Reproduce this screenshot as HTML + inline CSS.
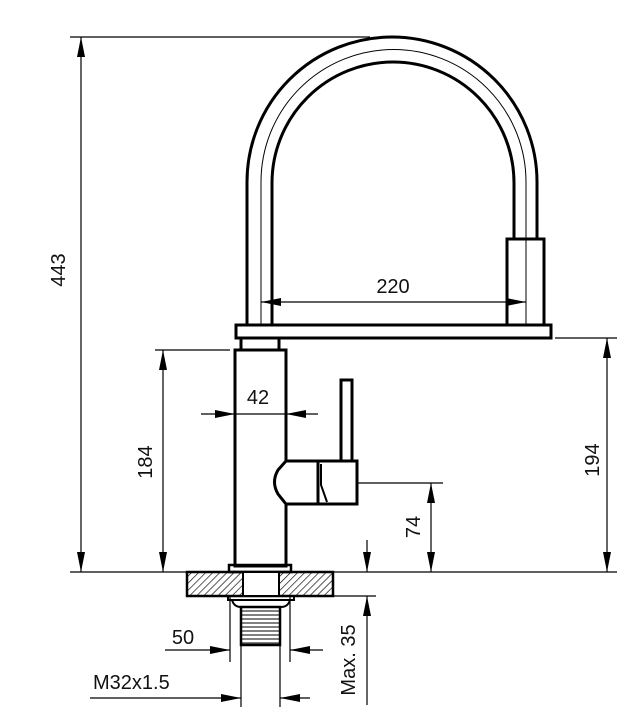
<!DOCTYPE html>
<html><head><meta charset="utf-8"><style>
html,body{margin:0;padding:0;background:#fff;}
svg{display:block}
text{font-family:"Liberation Sans",Arial,sans-serif;fill:#111;font-size:20px}
</style></head><body>
<svg width="633" height="728" viewBox="0 0 633 728" xmlns="http://www.w3.org/2000/svg">
<defs>
<marker id="a" viewBox="0 0 20 8" refX="20" refY="4" markerWidth="20" markerHeight="8" markerUnits="userSpaceOnUse" orient="auto-start-reverse">
<path d="M0,0 L20,4 L0,8 z" fill="#000"/></marker>
<pattern id="h" width="5" height="5" patternUnits="userSpaceOnUse" patternTransform="rotate(45)">
<line x1="0" y1="0" x2="0" y2="5" stroke="#000" stroke-width="1.3"/></pattern>
</defs>
<g fill="none" stroke="#000">
<!-- spout arches -->
<path d="M247,325 V182 A145,145 0 0 1 537,182 V239" stroke-width="3"/>
<path d="M261,325 V182 A132.5,132.5 0 0 1 526,182 V325" stroke-width="1"/>
<path d="M272,325 V183 A121,121 0 0 1 514,183 V239" stroke-width="3"/>
<rect x="507" y="239" width="37" height="86" stroke-width="3" fill="#fff"/>
<line x1="526" y1="239" x2="526" y2="325" stroke-width="1"/>
<rect x="236" y="325" width="315" height="13" stroke-width="3" fill="#fff"/>
<!-- neck and body -->
<rect x="241" y="338" width="38" height="12" stroke-width="3"/>
<rect x="235" y="350" width="51" height="216" stroke-width="3"/>
<!-- handle -->
<path d="M286,461 H318 V504 H286 L278,494 Q271,482 278,470 Z" stroke-width="3" fill="#fff"/>
<rect x="318" y="461" width="39" height="43" stroke-width="3" fill="#fff"/>
<path d="M321,464 V485 L327,502" stroke-width="2"/>
<rect x="341" y="380" width="11" height="81" stroke-width="3" fill="#fff"/>
<!-- base -->
<rect x="229" y="565" width="62" height="7" stroke-width="2.5"/>
<rect x="187" y="572" width="146" height="24" stroke-width="2.5" fill="url(#h)"/>
<rect x="243" y="573" width="36" height="22" stroke="none" fill="#fff"/>
<line x1="243" y1="572" x2="243" y2="596" stroke-width="2"/>
<line x1="279" y1="572" x2="279" y2="596" stroke-width="2"/>
<rect x="228" y="596" width="66" height="4" stroke-width="2"/>
<path d="M232,600 Q234,607 241,607 H281 Q288,607 290,600" stroke-width="2"/>
<rect x="241" y="607" width="39" height="38" stroke-width="2.5" fill="url(#thr)"/>
<g stroke-width="1">
<line x1="242" y1="611" x2="279" y2="611"/><line x1="242" y1="615" x2="279" y2="615"/><line x1="242" y1="619" x2="279" y2="619"/><line x1="242" y1="623" x2="279" y2="623"/><line x1="242" y1="627" x2="279" y2="627"/><line x1="242" y1="631" x2="279" y2="631"/><line x1="242" y1="635" x2="279" y2="635"/><line x1="242" y1="639" x2="279" y2="639"/><line x1="242" y1="643" x2="279" y2="643"/>
</g>
<!-- dimension & extension lines -->
<g stroke-width="1.2">
<line x1="70" y1="37" x2="370" y2="37"/>
<line x1="70" y1="572" x2="617" y2="572"/>
<line x1="81" y1="37" x2="81" y2="572" marker-start="url(#a)" marker-end="url(#a)"/>
<line x1="155" y1="350" x2="230" y2="350"/>
<line x1="163" y1="350" x2="163" y2="572" marker-start="url(#a)" marker-end="url(#a)"/>
<line x1="555" y1="338" x2="617" y2="338"/>
<line x1="607" y1="338" x2="607" y2="572" marker-start="url(#a)" marker-end="url(#a)"/>
<line x1="357" y1="483" x2="443" y2="483"/>
<line x1="431" y1="483" x2="431" y2="572" marker-start="url(#a)" marker-end="url(#a)"/>
<line x1="261" y1="302" x2="526" y2="302" marker-start="url(#a)" marker-end="url(#a)"/>
<line x1="201" y1="414" x2="235" y2="414" marker-end="url(#a)"/>
<line x1="235" y1="414" x2="286" y2="414"/>
<line x1="318" y1="414" x2="286" y2="414" marker-end="url(#a)"/>
<line x1="230" y1="596" x2="230" y2="662"/>
<line x1="290" y1="596" x2="290" y2="662"/>
<line x1="165" y1="650" x2="230" y2="650" marker-end="url(#a)"/>
<line x1="323" y1="650" x2="290" y2="650" marker-end="url(#a)"/>
<line x1="241" y1="645" x2="241" y2="707"/>
<line x1="280" y1="645" x2="280" y2="707"/>
<line x1="90" y1="698" x2="241" y2="698" marker-end="url(#a)"/>
<line x1="310" y1="698" x2="280" y2="698" marker-end="url(#a)"/>
<line x1="333" y1="596" x2="376" y2="596"/>
<line x1="367" y1="540" x2="367" y2="572" marker-end="url(#a)"/>
<line x1="367" y1="705" x2="367" y2="596" marker-end="url(#a)"/>
</g>
</g>
<text x="393" y="293" text-anchor="middle">220</text>
<text x="258" y="404" text-anchor="middle">42</text>
<text x="183" y="644" text-anchor="middle">50</text>
<text x="93" y="689">M32x1.5</text>
<text transform="translate(65,270) rotate(-90)" text-anchor="middle">443</text>
<text transform="translate(152,462) rotate(-90)" text-anchor="middle">184</text>
<text transform="translate(599,460) rotate(-90)" text-anchor="middle">194</text>
<text transform="translate(420,527) rotate(-90)" text-anchor="middle">74</text>
<text transform="translate(355,660) rotate(-90)" text-anchor="middle">Max. 35</text>
</svg>
</body></html>
